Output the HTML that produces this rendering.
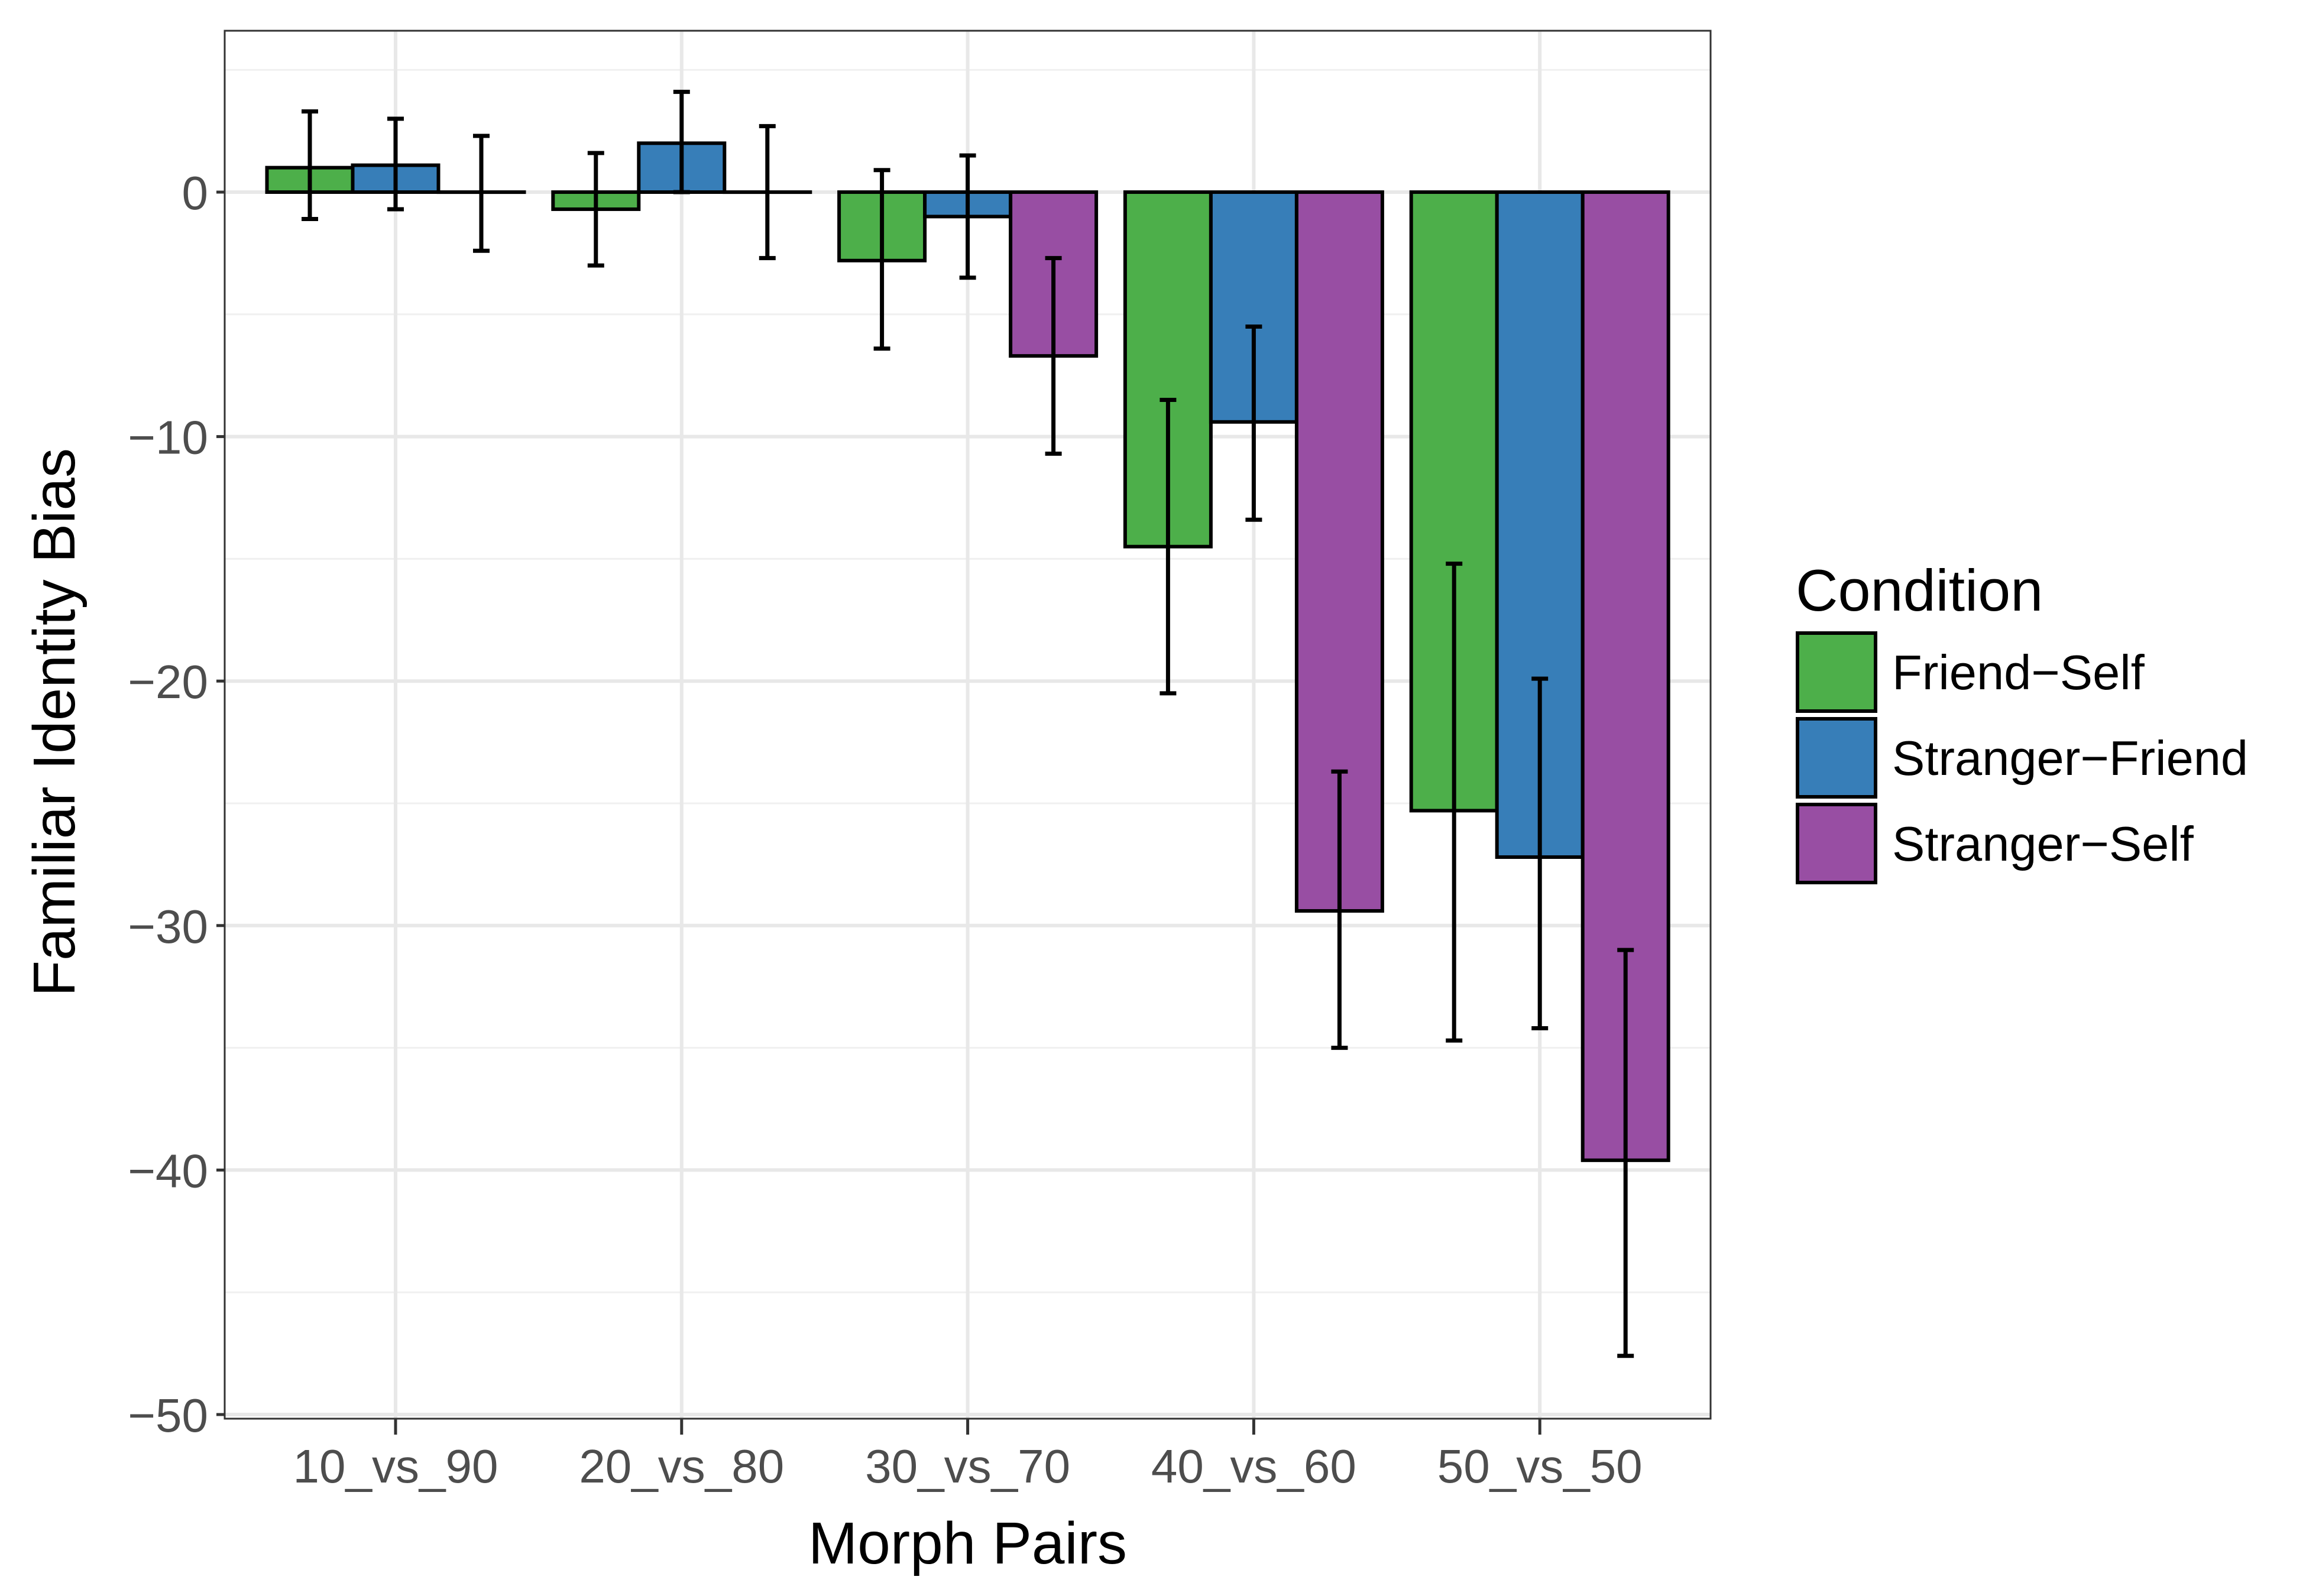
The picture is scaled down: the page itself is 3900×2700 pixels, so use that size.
<!DOCTYPE html>
<html><head><meta charset="utf-8"><style>
html,body{margin:0;padding:0;background:#fff}
svg{display:block;font-family:"Liberation Sans",Arial,sans-serif}
</style></head><body>
<svg id="chart" width="3900" height="2700" viewBox="0 0 3900 2700" xmlns="http://www.w3.org/2000/svg">
<rect width="3900" height="2700" fill="#fff"/>
<g id="grid"></g>
<g id="bars"></g>
<g id="axes"></g>
<g id="legend"></g>
</svg>
<script>
const categories = ["10_vs_90","20_vs_80","30_vs_70","40_vs_60","50_vs_50"];
const seriesNames = ["Friend\u2212Self","Stranger\u2212Friend","Stranger\u2212Self"];
const seriesColors = ["#4daf4a","#377eb8","#984ea3"];
const friendSelf = [1.0,-0.7,-2.8,-14.5,-25.3];
const friendSelfLo = [-1.1,-3.0,-6.4,-20.5,-34.7];
const friendSelfHi = [3.3,1.6,0.9,-8.5,-15.2];
const strangerFriend = [1.1,2.0,-1.0,-9.4,-27.2];
const strangerFriendLo = [-0.7,0.0,-3.5,-13.4,-34.2];
const strangerFriendHi = [3.0,4.1,1.5,-5.5,-19.9];
const strangerSelf = [0.0,0.0,-6.7,-29.4,-39.6];
const strangerSelfLo = [-2.4,-2.7,-10.7,-35.0,-47.6];
const strangerSelfHi = [2.3,2.7,-2.7,-23.7,-31.0];
const yTicks = [0,-10,-20,-30,-40,-50];
const yTickLabels = ["0","\u221210","\u221220","\u221230","\u221240","\u221250"];
const yMinor = [5,-5,-15,-25,-35,-45];

const values=[friendSelf,strangerFriend,strangerSelf];
const los=[friendSelfLo,strangerFriendLo,strangerSelfLo];
const his=[friendSelfHi,strangerFriendHi,strangerSelfHi];
const PL=380,PR=2893,PT=52,PB=2400;
const y0=325,ppu=41.36;
const yS=v=>y0-v*ppu;
const x0=669,step=483.8,barW=145;
const xS=i=>x0+i*step;
const NS="http://www.w3.org/2000/svg";
function mk(tag,attrs,parent,text){const e=document.createElementNS(NS,tag);for(const k in attrs)e.setAttribute(k,attrs[k]);if(text!==undefined)e.textContent=text;parent.appendChild(e);return e;}
const grid=document.getElementById('grid'),bars=document.getElementById('bars'),axes=document.getElementById('axes'),legend=document.getElementById('legend');
let p=mk('rect',{x:PL,y:PT,width:PR-PL,height:PB-PT,fill:'#fff'},grid);


yMinor.forEach(v=>{const l=mk('line',{x1:PL,x2:PR,y1:yS(v),y2:yS(v),stroke:'#f0f0f0','stroke-width':3},grid);

});
yTicks.forEach(v=>{const l=mk('line',{x1:PL,x2:PR,y1:yS(v),y2:yS(v),stroke:'#e8e8e8','stroke-width':6},grid);

});
categories.forEach((c,i)=>{const l=mk('line',{x1:xS(i),x2:xS(i),y1:PT,y2:PB,stroke:'#e8e8e8','stroke-width':6},grid);

});
categories.forEach((c,i)=>{
 for(let s=0;s<3;s++){
  const cx=xS(i)+(s-1)*barW;
  const v=values[s][i];
  const yt=Math.min(yS(v),yS(0)),h=Math.abs(yS(v)-yS(0));
  const r=mk('rect',{x:cx-barW/2,y:yt,width:barW,height:Math.max(h,0.1),fill:seriesColors[s],stroke:'#000','stroke-width':6},bars);
  
  
 }
});
categories.forEach((c,i)=>{
 for(let s=0;s<3;s++){
  const cx=xS(i)+(s-1)*barW;
  const g=mk('g',{stroke:'#000','stroke-width':7},bars);
  
  
  const a=yS(his[s][i]),b=yS(los[s][i]);
  mk('line',{x1:cx,x2:cx,y1:a,y2:b},g);
  mk('line',{x1:cx-14,x2:cx+14,y1:a,y2:a},g);
  mk('line',{x1:cx-14,x2:cx+14,y1:b,y2:b},g);
 }
});
let bd=mk('rect',{x:PL,y:PT,width:PR-PL,height:PB-PT,fill:'none',stroke:'#333','stroke-width':3},axes);


yTicks.forEach((v,k)=>{
 mk('line',{x1:PL-14,x2:PL,y1:yS(v),y2:yS(v),stroke:'#333','stroke-width':5},axes);
 const t=mk('text',{x:PL-28,y:yS(v)+29,'text-anchor':'end','font-size':80,fill:'#4d4d4d'},axes,yTickLabels[k]);
 
 
});
categories.forEach((c,i)=>{
 mk('line',{x1:xS(i),x2:xS(i),y1:PB,y2:PB+27,stroke:'#333','stroke-width':5},axes);
 const t=mk('text',{x:xS(i),y:2508,'text-anchor':'middle','font-size':80,fill:'#4d4d4d'},axes,c);
 
 
});
let xt=mk('text',{x:(PL+PR)/2,y:2645,'text-anchor':'middle','font-size':100,fill:'#000'},axes,'Morph Pairs');


let yt=mk('text',{x:0,y:0,transform:'translate(126,1222) rotate(-90)','text-anchor':'middle','font-size':100,fill:'#000'},axes,'Familiar Identity Bias');


let lt=mk('text',{x:3037,y:1033,'font-size':99,fill:'#000'},legend,'Condition');


seriesNames.forEach((n,s)=>{
 const top=1071+s*145;
 const g=mk('g',{},legend);
 
 
 mk('rect',{x:3040,y:top,width:132,height:132,fill:seriesColors[s],stroke:'#000','stroke-width':6},g);
 mk('text',{x:3200,y:top+95,'font-size':83,fill:'#000'},g,n);
});
</script>
</body></html>
